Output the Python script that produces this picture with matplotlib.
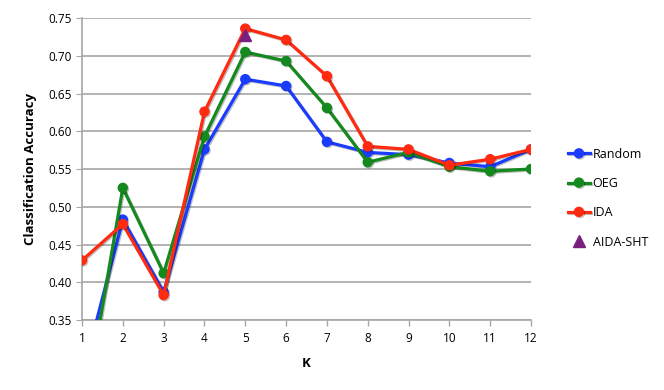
import matplotlib
matplotlib.use("Agg")
import matplotlib.pyplot as plt
import matplotlib.patheffects as pe
import numpy as np

# values
k_values = [1, 2, 3, 4, 5, 6, 7, 8, 9, 10, 11, 12]
random_acc = [0.275, 0.483, 0.387, 0.576, 0.669, 0.660, 0.586, 0.572, 0.569, 0.558, 0.553, 0.576]
oeg_acc = [0.21, 0.525, 0.412, 0.593, 0.705, 0.693, 0.631, 0.559, 0.572, 0.553, 0.547, 0.550]
ida_acc = [0.429, 0.477, 0.383, 0.626, 0.736, 0.721, 0.673, 0.580, 0.576, 0.555, 0.563, 0.576]
aida_k = [5]
aida_acc = [0.728]
y_ticks = [0.35, 0.40, 0.45, 0.50, 0.55, 0.60, 0.65, 0.70, 0.75]

plt.rcParams['font.family'] = ['Open Sans', 'DejaVu Sans']

fig = plt.figure(figsize=(6.64, 3.9), dpi=100)
ax = fig.add_axes([0.1235, 0.1795, 0.6762, 0.7743])

shadow = [pe.SimpleLineShadow(offset=(0.8, -0.8), alpha=0.25), pe.Normal()]
series = [
    ("Random", random_acc, "#1a3cff"),
    ("OEG", oeg_acc, "#14891e"),
    ("IDA", ida_acc, "#ff2a10"),
]
for name, vals, col in series:
    ax.plot(k_values, vals, color=col, lw=2.3, marker='o', ms=6.5,
            label=name, path_effects=shadow, zorder=3)

ax.plot(aida_k, aida_acc, linestyle='none', marker='^', ms=9,
        color='#7a1f7e', label='AIDA-SHT', zorder=4)

ax.set_xlim(1, 12)
ax.set_ylim(0.35, 0.75)
ax.set_xticks(k_values)
ax.set_yticks(y_ticks)
ax.set_yticklabels([f"{v:.2f}" for v in y_ticks])
ax.yaxis.grid(True, color='#a6a6a6', lw=1.2)
ax.set_axisbelow(True)
for s in ['top', 'right']:
    ax.spines[s].set_visible(False)
for s in ['left', 'bottom']:
    ax.spines[s].set_color('#a6a6a6')
    ax.spines[s].set_linewidth(1.2)
ax.tick_params(axis='x', colors='#a6a6a6', length=4, width=1, labelcolor='black',
               labelsize=8.5, pad=5)
ax.tick_params(axis='y', length=4, colors='#a6a6a6', labelcolor='black', labelsize=8.5)

ax.set_xlabel('K', fontsize=9.5, fontweight='bold', labelpad=8)
ax.set_ylabel('Classification Accuracy', fontsize=9.5, fontweight='bold', labelpad=8)

leg = fig.legend(loc='upper left', bbox_to_anchor=(0.838, 0.65), frameon=False,
                 fontsize=9, handlelength=1.8, labelspacing=1.3, handletextpad=0.2)

fig.savefig('out.png', dpi=100)
